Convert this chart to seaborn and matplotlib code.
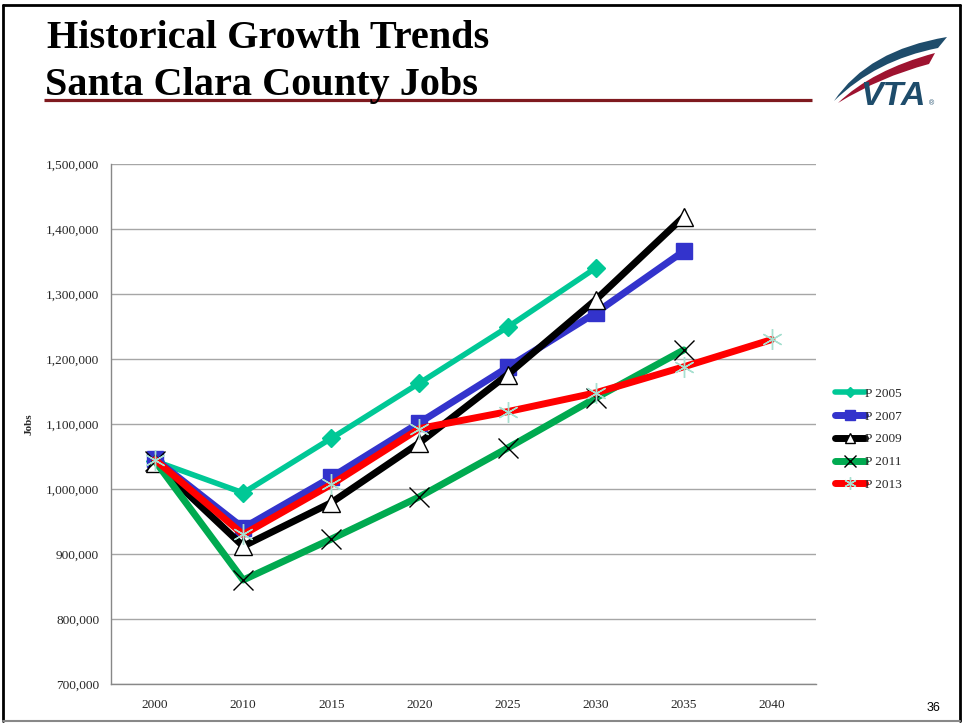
import matplotlib
matplotlib.use("Agg")
import matplotlib.pyplot as plt
from matplotlib.path import Path
from matplotlib.patches import PathPatch
from matplotlib.ticker import FuncFormatter
import seaborn as sns
import pandas as pd

# forecast years (categorical axis)
years = ["2000", "2010", "2015", "2020", "2025", "2030", "2035", "2040"]

p2005 = [1043000, 994000, 1078000, 1163000, 1249000, 1340000]
p2007 = [1046000, 940000, 1018000, 1102000, 1187000, 1271000, 1366000]
p2009 = [1040000, 912000, 979000, 1071000, 1176000, 1291000, 1419000]
p2011 = [1043000, 860000, 923000, 988000, 1063000, 1140000, 1214000]
p2013 = [1045000, 930000, 1007000, 1093000, 1119000, 1148000, 1188000, 1230000]

series = {"P 2005": p2005, "P 2007": p2007, "P 2009": p2009,
          "P 2011": p2011, "P 2013": p2013}

rows = []
for name, vals in series.items():
    for yr, v in zip(years, vals):
        rows.append({"year": yr, "jobs": v, "series": name})
df = pd.DataFrame(rows)

styles = {
    "P 2005": dict(color="#00C896", lw=4, marker="D", ms=9,
                   mfc="#00C896", mec="#00C896", mew=1),
    "P 2007": dict(color="#3333CC", lw=5, marker="s", ms=12,
                   mfc="#3333CC", mec="#3333CC", mew=1),
    "P 2009": dict(color="black", lw=5, marker="^", ms=13,
                   mfc="white", mec="black", mew=1),
    "P 2011": dict(color="#00AA50", lw=5, marker="x", ms=15,
                   mfc="black", mec="black", mew=1),
    "P 2013": dict(color="#FF0000", lw=5, marker=(6, 2, 0), ms=15,
                   mfc="#A8E0D0", mec="#A8E0D0", mew=1),
}

sns.set_style("white")
plt.rcParams["font.family"] = ["Liberation Serif", "DejaVu Serif"]

fig = plt.figure(figsize=(9.64, 7.23), dpi=100)

# overlay in pixel coordinates for the slide decorations
deco = fig.add_axes([0, 0, 1, 1])
deco.set_xlim(0, 964)
deco.set_ylim(723, 0)
deco.axis("off")

ax = fig.add_axes([111 / 964, 39 / 723, 705 / 964, 520 / 723])

for name in series:
    st = styles[name]
    sub = df[df["series"] == name]
    sns.lineplot(data=sub, x="year", y="jobs", ax=ax, label=name,
                 color=st["color"], linewidth=st["lw"], marker=st["marker"],
                 markersize=st["ms"], markerfacecolor=st["mfc"],
                 markeredgecolor=st["mec"], markeredgewidth=st["mew"],
                 sort=False)

ax.set_xlim(-0.5, len(years) - 0.5)
ax.set_ylim(700000, 1500000)
ax.set_yticks(range(700000, 1500001, 100000))
ax.yaxis.set_major_formatter(FuncFormatter(lambda v, p: f"{int(v):,}"))
ax.grid(axis="y", color="#A6A6A6", linewidth=1)
ax.set_axisbelow(True)
for s in ["top", "right"]:
    ax.spines[s].set_visible(False)
for s in ["left", "bottom"]:
    ax.spines[s].set_color("#888888")
    ax.spines[s].set_linewidth(1)
ax.tick_params(axis="both", length=0, labelsize=9.6)
ax.tick_params(axis="y", pad=8.5)
ax.tick_params(axis="x", pad=11)
ax.set_xlabel("")
ax.set_ylabel("Jobs", fontsize=8, fontweight="bold", labelpad=9)

ax.legend(loc="upper left", bbox_to_anchor=(1.027, 0.570), frameon=False,
          fontsize=9.5, handlelength=2.3, handletextpad=0.0, labelspacing=0.8,
          markerscale=0.6, borderaxespad=0, borderpad=0)

# slide frame
deco.plot([3, 3], [5, 721], color="black", lw=2)
deco.plot([3, 960], [5, 5], color="black", lw=2)
deco.plot([960, 960], [5, 721], color="black", lw=2)
deco.plot([3, 960], [721, 721], color="#888888", lw=1.5)

# titles
deco.text(47, 48, "Historical Growth Trends", fontsize=29, fontweight="bold",
          color="black", ha="left", va="baseline")
deco.text(45, 95, "Santa Clara County Jobs", fontsize=29, fontweight="bold",
          color="black", ha="left", va="baseline")
deco.plot([44, 812], [100, 100], color="#7F1A1F", lw=2.3,
          solid_capstyle="butt")

# VTA logo
def swoosh(pts, color):
    codes = [Path.MOVETO, Path.CURVE3, Path.CURVE3, Path.LINETO,
             Path.CURVE3, Path.CURVE3, Path.CLOSEPOLY]
    deco.add_patch(PathPatch(Path(pts + [pts[0]], codes), fc=color, ec="none"))

swoosh([(834, 101), (868, 50), (947, 37), (938, 48), (876, 60), (834, 101)],
       "#1E4C6B")
swoosh([(838, 103), (872, 70), (935, 53), (929, 64), (880, 77), (838, 103)],
       "#9E1330")
deco.text(860, 105, "VTA", fontsize=24.5, fontweight="bold", fontstyle="italic",
          family="Liberation Sans", color="#1E4C6B", ha="left", va="baseline")
deco.text(929, 105, "\u00ae", fontsize=5, family="Liberation Sans",
          color="#1E4C6B", ha="left", va="baseline")

deco.text(940, 711, "36", fontsize=9, family="Liberation Sans",
          color="black", ha="right", va="baseline")

fig.savefig("out.png", dpi=100)
